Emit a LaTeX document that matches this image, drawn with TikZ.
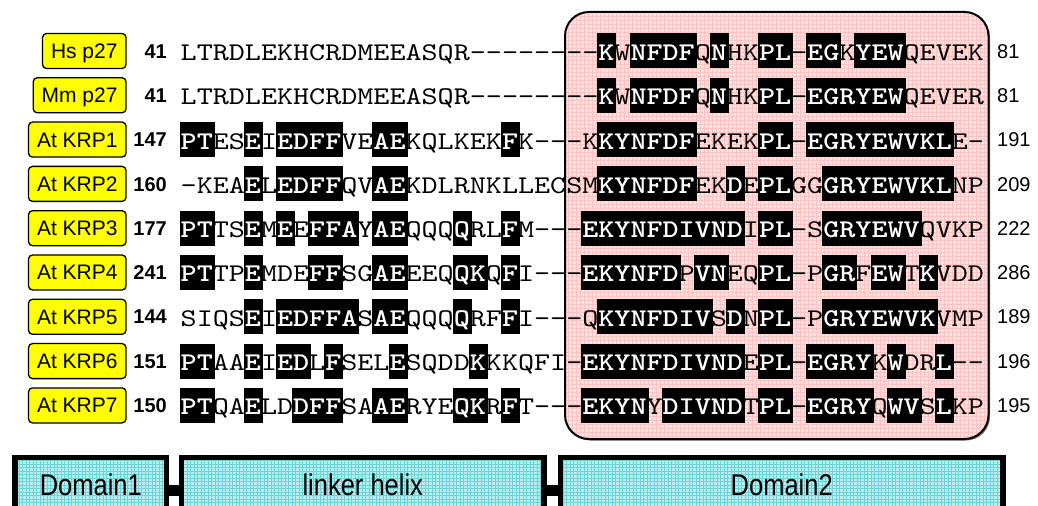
\documentclass[tikz,border=0pt]{standalone}
\usepackage{fontspec}
\setsansfont{Liberation Sans}
\setmonofont{lmmono10-regular.otf}[BoldFont=lmmonolt10-bold.otf, FakeStretch=1.2]
\newfontfamily\narrowfont[FakeStretch=0.85]{Liberation Sans}
\definecolor{pinkbase}{RGB}{255,224,224}
\definecolor{pinkgrid}{RGB}{248,196,196}
\definecolor{cyanbase}{RGB}{182,238,238}
\definecolor{cyangrid}{RGB}{110,210,214}
\definecolor{labyellow}{RGB}{255,255,0}
\newcommand\hlbox[1]{\setbox0\hbox{\bfseries\textcolor{white}{#1}}\rlap{\kern-1bp\rule[-8bp]{\dimexpr\wd0+3bp\relax}{35bp}}\box0}
\tikzset{
  lab/.style={draw, line width=1.3bp, fill=labyellow, rounded corners=4bp,
    minimum height=35bp, inner xsep=8.5bp, inner ysep=0pt, text height=15bp, text depth=0bp,
    font=\sffamily\fontsize{21bp}{25bp}\selectfont},
  numL/.style={inner sep=0pt, font=\sffamily\bfseries\fontsize{20bp}{24bp}\selectfont},
  numR/.style={inner sep=0pt, font=\sffamily\fontsize{20bp}{24bp}\selectfont},
  seqtext/.style={inner sep=0pt, font=\ttfamily\fontsize{25.5bp}{30bp}\selectfont},
  dombox/.style={draw, line width=5.5bp, fill=cyanbase, inner sep=0pt, anchor=north west,
    minimum height=55bp, text height=21.5bp, text depth=0bp,
    font=\narrowfont\fontsize{30bp}{36bp}\selectfont,
    path picture={\draw[cyangrid, line width=0.35bp] (path picture bounding box.south west) grid[step=3.5bp] (path picture bounding box.north east);}},
  linkbar/.style={line width=11bp}
}
\newcommand\seqrow[5]{%
  \pgfmathsetmacro\cy{51+44.3*#1}%
  \node[lab, anchor=east] (lab#1) at (126.7,\cy) {#2};
  \node[numL, anchor=base east] (ns#1) at (167,\cy+7.2) {#3};
  \node[seqtext, anchor=base west] (seq#1) at (180.5,\cy+9.5) {#4};
  \node[numR, anchor=base west] (ne#1) at (997,\cy+7.2) {#5};
}
\begin{document}
\begin{tikzpicture}[x=1bp,y=-1bp]
\useasboundingbox (0,0) rectangle (1038,506);
\fill[white] (0,0) rectangle (1038,506);
% pink region
\fill[black!55, rounded corners=24bp] (566.5,13.5) rectangle (990,440.5);
\fill[pinkbase, rounded corners=24bp] (565,12) rectangle (988.5,439);
\begin{scope}
  \clip[rounded corners=24bp] (565,12) rectangle (988.5,439);
  \draw[pinkgrid, line width=0.35bp] (564,440) grid[step=4bp] (990,11);
\end{scope}
\draw[line width=2bp, rounded corners=24bp] (565,12) rectangle (988.5,439);
% rows
\seqrow{0}{Hs p27}{41}{LTRDLEKHCRDMEEASQR--------\hlbox{K}W\hlbox{NFDF}Q\hlbox{N}HK\hlbox{PL}-\hlbox{EG}K\hlbox{YEW}QEVEK}{81}
\seqrow{1}{Mm p27}{41}{LTRDLEKHCRDMEEASQR--------\hlbox{K}W\hlbox{NFDF}Q\hlbox{N}HK\hlbox{PL}-\hlbox{EGRYEW}QEVER}{81}
\seqrow{2}{At KRP1}{147}{\hlbox{PT}ES\hlbox{E}I\hlbox{EDFF}VE\hlbox{AE}KQLKEK\hlbox{F}K---K\hlbox{KYNFDF}EKEK\hlbox{PL}-\hlbox{EGRYEWVKL}E-}{191}
\seqrow{3}{At KRP2}{160}{-KEA\hlbox{E}L\hlbox{EDFF}QV\hlbox{AE}KDLRNKLLECSM\hlbox{KYNFDF}EK\hlbox{D}E\hlbox{PL}GG\hlbox{GRYEWVKL}NP}{209}
\seqrow{4}{At KRP3}{177}{\hlbox{PT}TS\hlbox{E}M\hlbox{E}E\hlbox{FFA}Y\hlbox{AE}QQQ\hlbox{Q}RL\hlbox{F}M---\hlbox{EKYNFDIVND}I\hlbox{PL}-S\hlbox{GRYEWV}QVKP}{222}
\seqrow{5}{At KRP4}{241}{\hlbox{PT}TP\hlbox{E}MDE\hlbox{FF}SG\hlbox{AE}EEQ\hlbox{QK}Q\hlbox{F}I---\hlbox{EKYNFD}P\hlbox{VN}EQ\hlbox{PL}-P\hlbox{GR}F\hlbox{EW}T\hlbox{K}VDD}{286}
\seqrow{6}{At KRP5}{144}{SIQS\hlbox{E}I\hlbox{EDFFA}S\hlbox{AE}QQQ\hlbox{Q}RF\hlbox{F}I---Q\hlbox{KYNFDIV}S\hlbox{D}N\hlbox{PL}-P\hlbox{GRYEWVK}VMP}{189}
\seqrow{7}{At KRP6}{151}{\hlbox{PT}AA\hlbox{E}I\hlbox{ED}L\hlbox{F}SEL\hlbox{E}SQDD\hlbox{K}KKQFI-\hlbox{EKYNFDIVND}E\hlbox{PL}-\hlbox{EGRY}K\hlbox{W}DR\hlbox{L}--}{196}
\seqrow{8}{At KRP7}{150}{\hlbox{PT}QA\hlbox{E}LD\hlbox{DFF}SA\hlbox{AE}RYE\hlbox{QK}R\hlbox{F}T---\hlbox{EKYN}Y\hlbox{DIVND}T\hlbox{PL}-\hlbox{EGRY}Q\hlbox{WV}S\hlbox{L}KP}{195}
% domain bar
\node[dombox, minimum width=151.4bp] (d1) at (12.35,454.55) {Domain1};
\node[dombox, minimum width=362.5bp] (d2) at (178.75,454.55) {linker helix};
\node[dombox, minimum width=442.5bp] (d3) at (557.75,454.55) {Domain2};
\draw[linkbar] ([yshift=-5.5bp]d1.east) -- ([yshift=-5.5bp]d2.west);
\draw[linkbar] ([yshift=-5.5bp]d2.east) -- ([yshift=-5.5bp]d3.west);
\end{tikzpicture}
\end{document}
